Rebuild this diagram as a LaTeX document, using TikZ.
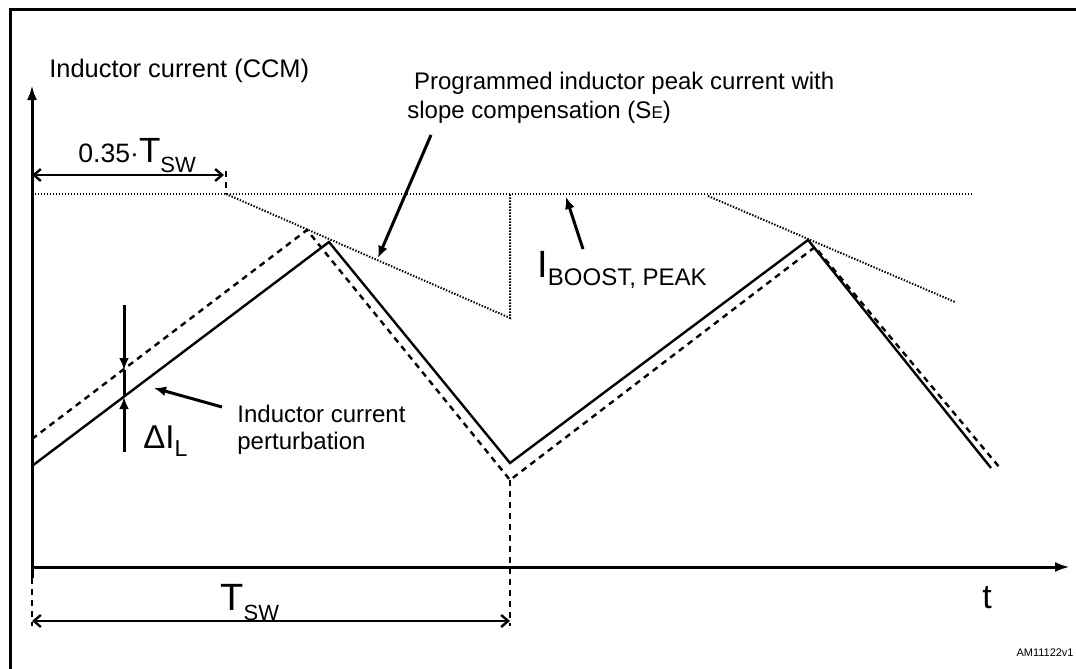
\documentclass[tikz,border=0pt]{standalone}
\usepackage{fontspec}
\setmainfont{Liberation Sans}
\usetikzlibrary{arrows.meta, positioning}
\tikzstyle{wave}=[line width=1.2pt]
\tikzstyle{pert}=[line width=1.2pt, dash pattern=on 3pt off 2.5pt]
\tikzstyle{limit}=[line width=1pt, dash pattern=on 0.7pt off 0.8pt]
\tikzstyle{guide}=[line width=0.9pt, dash pattern=on 3pt off 2.5pt]
\tikzstyle{axis}=[line width=1.5pt, -{Latex[length=7.5pt,width=5pt]}]
\tikzstyle{pointer}=[line width=1.5pt, -{Latex[length=6pt,width=5pt]}]
\tikzstyle{dim}=[line width=1.2pt, {Straight Barb[length=3.5pt,width=6pt]}-{Straight Barb[length=3.5pt,width=6pt]}]
\tikzstyle{lbl}=[inner sep=0pt, font=\fontsize{12}{14.5}\selectfont]
\newcommand{\lowsub}[3][-5pt]{\raisebox{#1}{\fontsize{#2}{#2}\selectfont #3}}

\begin{document}
\begin{tikzpicture}[x=0.5pt, y=-0.5pt]
  \useasboundingbox (0,0) rectangle (1076,669);
  \draw[line width=1.5pt] (1076,9) -- (10,9) -- (10,669);

  % axes
  \coordinate (origin) at (32,567);
  \coordinate (ylow) at (32,578);
  \coordinate (ytop) at (32,85);
  \coordinate (xend) at (1070,567);
  \draw[axis] (ylow) -- (ytop);
  \draw[axis] (origin) -- (xend);

  % inductor current, nominal and perturbed
  \coordinate (s0) at (32,466);
  \coordinate (s1) at (329,242);
  \coordinate (s2) at (510,463);
  \coordinate (s3) at (808,240);
  \coordinate (s4) at (991,468);
  \coordinate (d0) at (32,439);
  \coordinate (d1) at (307,230);
  \coordinate (d2) at (510,480);
  \coordinate (d3) at (815,247);
  \coordinate (d4) at (1000,468);
  \draw[wave] (s0) -- (s1) -- (s2) -- (s3) -- (s4);
  \draw[pert] (d0) -- (d1) -- (d2) -- (d3) -- (d4);

  % peak limit and slope compensation
  \coordinate (pk0) at (32,194);
  \coordinate (pk1) at (973,194);
  \coordinate (se0) at (226,194);
  \coordinate (se1) at (510,318);
  \coordinate (se2) at (510,194);
  \coordinate (se3) at (708,196);
  \coordinate (se4) at (955,302);
  \draw[limit] (pk0) -- (pk1);
  \draw[limit] (se0) -- (se1) -- (se2);
  \draw[limit] (se3) -- (se4);

  % time dimensions
  \coordinate (tick) at (226,171);
  \coordinate (fracL) at (32,175);
  \coordinate (fracR) at (224,175);
  \coordinate (gL) at (32,626);
  \coordinate (gR) at (510,626);
  \coordinate (tswL) at (32,621);
  \coordinate (tswR) at (510,621);
  \draw[guide] (tick) -- (se0);
  \draw[guide] (ylow) -- (gL);
  \draw[guide] (d2) -- (gR);
  \draw[dim] (fracL) -- (fracR);
  \draw[dim] (tswL) -- (tswR);

  % delta I
  \coordinate (dtop) at (124,305);
  \coordinate (dhit) at (124,370);
  \coordinate (shit) at (124,397);
  \coordinate (dbot) at (124,452);
  \draw[line width=1.5pt] (dhit) -- (shit);
  \draw[pointer] (dtop) -- (dhit);
  \draw[pointer] (dbot) -- (shit);

  \node[lbl, anchor=base west, font=\fontsize{12.7}{15}\selectfont] (title) at (49,77) {Inductor current (CCM)};
  \node[lbl, anchor=base west, align=left] (prog) at (407,118) {\ Programmed inductor peak current with\\slope compensation (S{\fontsize{8.5}{9}\selectfont E})};
  \node[lbl, anchor=base west] (frac) at (78,162) {{\fontsize{13.3}{15}\selectfont 0.35·}{\fontsize{17.5}{20}\selectfont T}\lowsub{11}{SW}};
  \node[lbl, anchor=base west] (boost) at (537,277) {{\fontsize{19}{20}\selectfont I}\lowsub[-4pt]{12}{BOOST, PEAK}};
  \node[lbl, anchor=base west] (dil) at (143,448) {{\fontsize{16.5}{17}\selectfont ΔI}\lowsub[-4pt]{11.5}{L}};
  \node[lbl, anchor=base west, align=left, font=\fontsize{12}{13.5}\selectfont] (pertlbl) at (237,449) {Inductor current\\perturbation};
  \node[lbl, anchor=base west] (tsw) at (220,610) {{\fontsize{19}{20}\selectfont T}\lowsub{11}{SW}};
  \node[lbl, anchor=base west, font=\fontsize{17}{18}\selectfont] (tlbl) at (982,608) {t};
  \node[lbl, anchor=base east, font=\fontsize{5.5}{6}\selectfont] (code) at (1074,656) {AM11122v1};

  % pointers to the curves
  \coordinate (progTail) at (431,135);
  \coordinate (progHead) at (378,258);
  \coordinate (boostTail) at (583,249);
  \coordinate (boostHead) at (566,197);
  \coordinate (pertTail) at (222,407);
  \coordinate (pertHead) at (154,388);
  \draw[pointer] (progTail) -- (progHead);
  \draw[pointer] (boostTail) -- (boostHead);
  \draw[pointer] (pertTail) -- (pertHead);
\end{tikzpicture}
\end{document}
